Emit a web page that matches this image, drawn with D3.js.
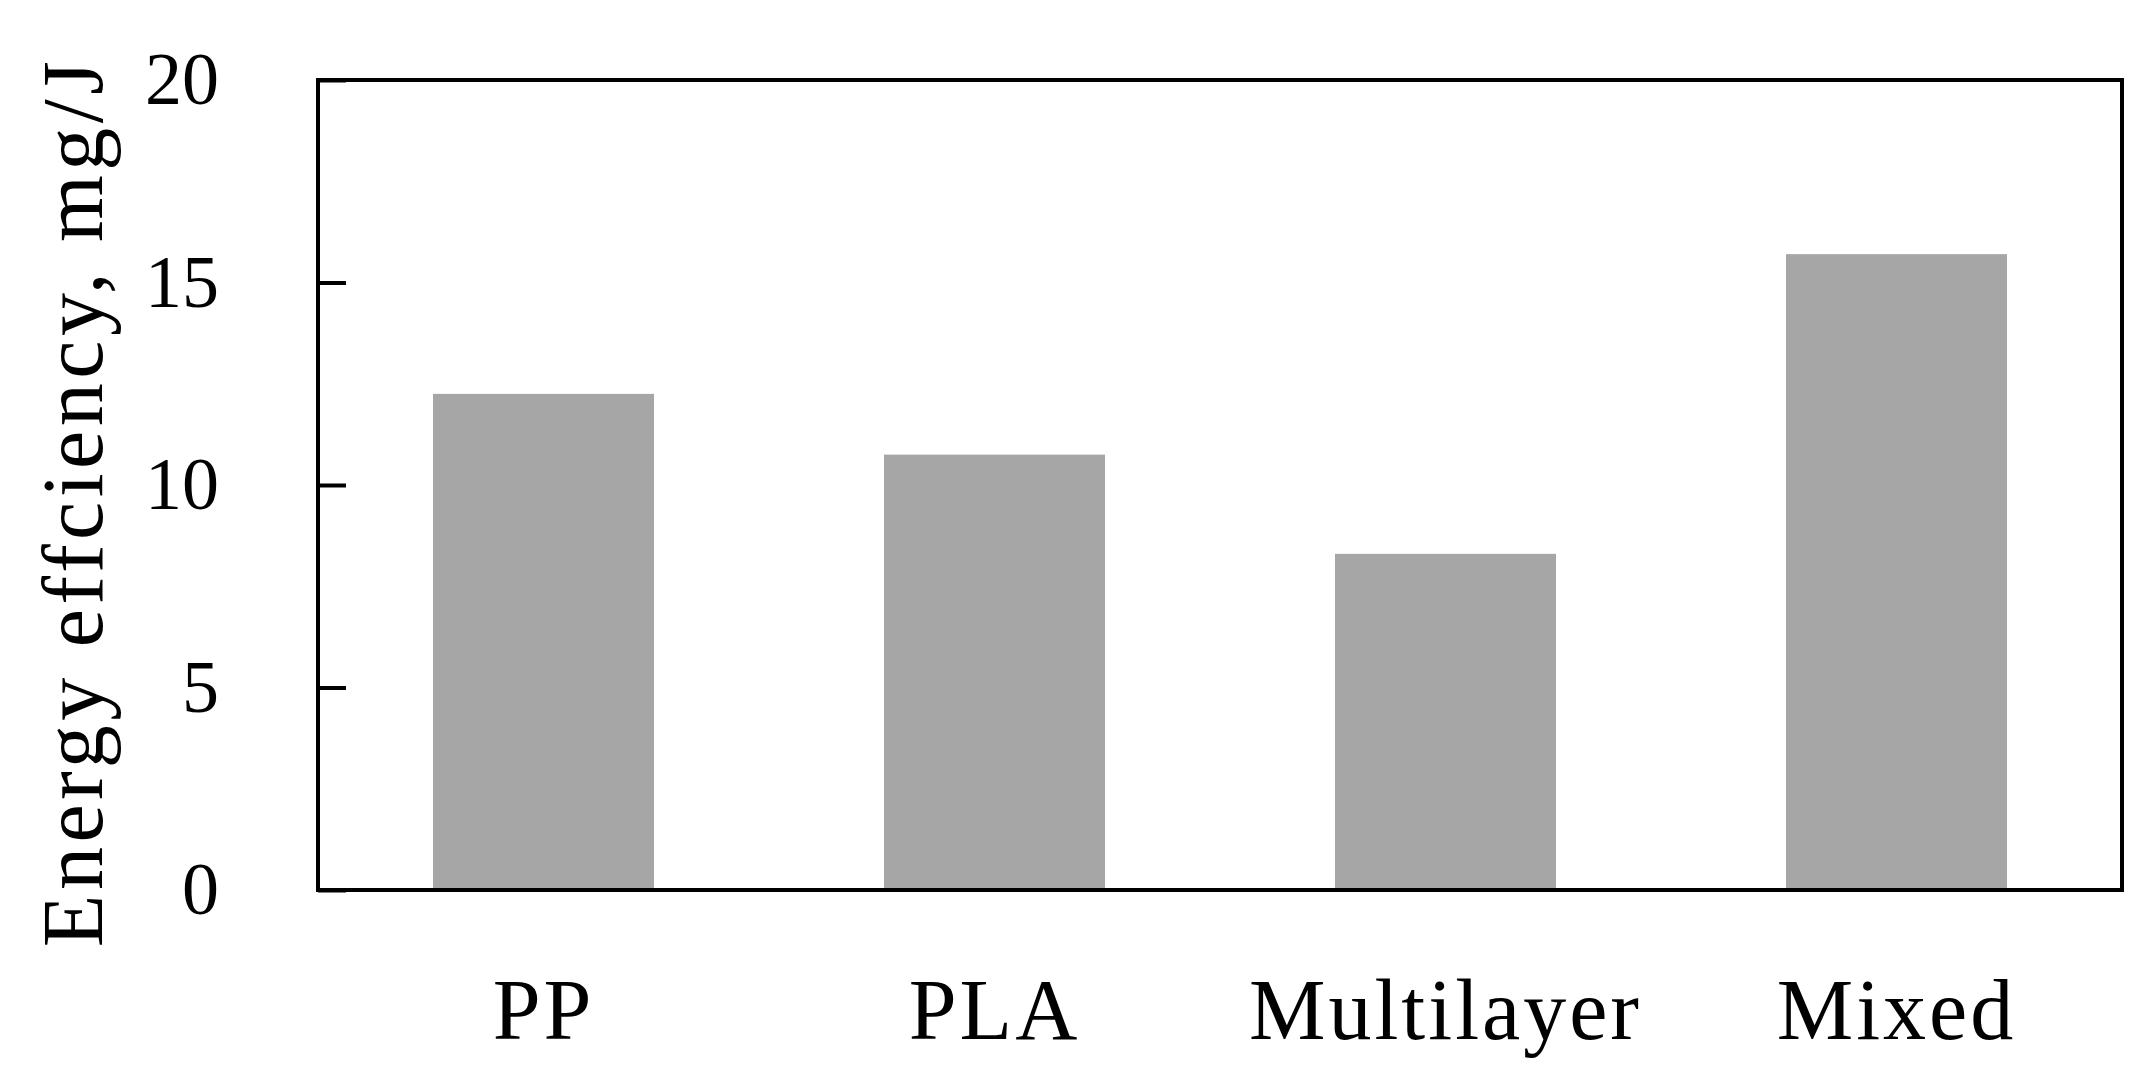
<!DOCTYPE html>
<html>
<head>
<meta charset="utf-8">
<script src="https://cdn.jsdelivr.net/npm/d3@7"></script>
<style>
	body { margin: 0; background: #fff; }
</style>
</head>
<body>
<div id="chart"></div>
<script>
var categories = ['PP', 'PLA', 'Multilayer', 'Mixed'];
var efficiency = [12.25, 10.75, 8.3, 15.7];
var yTicks = [0, 5, 10, 15, 20];
var yTitle = 'Energy effciency, mg/J';

var width = 2143, height = 1085;
var margin = {
	left: 318,
	top: 80,
	right: 21,
	bottom: 195
};
var serif = '"Liberation Serif", "DejaVu Serif", serif';
var plotW = width - margin.left - margin.right;
var plotH = height - margin.top - margin.bottom;

var svg = d3.select('#chart').append('svg')
	.attr('width', width)
	.attr('height', height)
	.style('font-family', serif);

let g = svg.append('g')
	.attr('transform', 'translate(' + margin.left + ',' + margin.top + ')');

let x = d3.scaleBand()
	.domain(categories)
	.range([0, plotW])
	.paddingInner(0.51)
	.paddingOuter(0.255);

let y = d3.scaleLinear()
	.domain([0, 20])
	.range([plotH, 0]);

// bars
g.selectAll('.bar')
	.data(categories)
	.enter().append('rect')
	.attr('class', 'bar')
	.attr('x', d => x(d))
	.attr('width', x.bandwidth())
	.attr('y', (d, i) => y(efficiency[i]))
	.attr('height', (d, i) => y(0) - y(efficiency[i]))
	.attr('fill', '#a6a6a6');

// y axis, ticks pointing inward
let yAxis = g.append('g')
	.call(d3.axisLeft(y).tickValues(yTicks).tickSizeInner(-28).tickSizeOuter(0).tickPadding(99));
yAxis.attr('font-family', serif);
yAxis.select('.domain').remove();
yAxis.selectAll('line').attr('stroke', '#000').attr('stroke-width', 4);
yAxis.selectAll('text')
	.style('font-size', '74px')
	.attr('fill', '#000');

// x axis labels
let xAxis = g.append('g')
	.attr('transform', 'translate(0,' + plotH + ')')
	.call(d3.axisBottom(x).tickSize(0).tickPadding(88));
xAxis.attr('font-family', serif);
xAxis.select('.domain').remove();
xAxis.selectAll('text')
	.style('font-size', '86px')
	.style('letter-spacing', '3px')
	.attr('fill', '#000');

// frame
g.append('rect')
	.attr('width', plotW)
	.attr('height', plotH)
	.attr('fill', 'none')
	.attr('stroke', '#000')
	.attr('stroke-width', 4);

// y title
svg.append('text')
	.attr('transform', 'translate(102,502) rotate(-90)')
	.attr('text-anchor', 'middle')
	.style('font-size', '86px')
	.style('letter-spacing', '4.5px')
	.text(yTitle);
</script>
</body>
</html>
